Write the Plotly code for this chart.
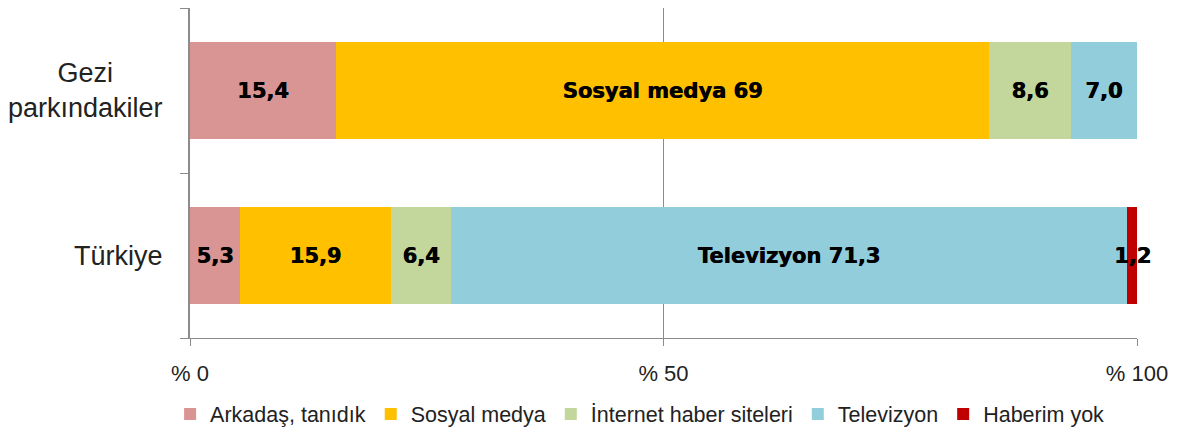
import plotly.graph_objects as go

categories = ["Türkiye", "Gezi<br>parkındakiler"]
series_names = ["Arkadaş, tanıdık", "Sosyal medya", "İnternet haber siteleri", "Televizyon", "Haberim yok"]
arkadas = [5.3, 15.4]
sosyal = [15.9, 69]
internet = [6.4, 8.6]
televizyon = [71.3, 7.0]
haberim_yok = [1.2, 0]
# data labels as printed in the chart (decimal comma)
arkadas_labels = ["5,3", "15,4"]
sosyal_labels = ["15,9", "Sosyal medya 69"]
internet_labels = ["6,4", "8,6"]
televizyon_labels = ["Televizyon 71,3", "7,0"]
haberim_yok_labels = ["1,2", ""]
colors = ["#D99594", "#FFC000", "#C3D69B", "#92CDDC", "#C00000"]
tick_vals = [0, 50, 100]
tick_text = ["% 0", "% 50", "% 100"]

values = [arkadas, sosyal, internet, televizyon, haberim_yok]
labels = [arkadas_labels, sosyal_labels, internet_labels, televizyon_labels, haberim_yok_labels]

label_font = dict(family="DejaVu Sans", size=21, color="black", weight="bold",
                  shadow="0.6px 0px 0px black")

fig = go.Figure()
cum = [0.0] * len(categories)
for name, vals, texts, col in zip(series_names, values, labels, colors):
    fig.add_trace(go.Bar(
        y=categories, x=vals, name=name, orientation="h",
        marker=dict(color=col, line=dict(width=0)),
        text=texts, textposition="inside", textangle=0,
        insidetextanchor="middle", cliponaxis=False, constraintext="none",
        textfont=label_font,
        width=0.59, hoverinfo="skip",
    ))
    # labels of segments too thin for Plotly's inside text: place at segment centre
    for i, (v, t) in enumerate(zip(vals, texts)):
        if t and v < 3:
            fig.add_annotation(x=cum[i] + v / 2, y=i, xref="x", yref="y",
                               text=t, showarrow=False, font=label_font)
        cum[i] += v

for i, cat in enumerate(categories):
    fig.add_annotation(
        x=-0.0264, xref="paper", xanchor="right", y=i, yref="y", yanchor="middle",
        text=cat, showarrow=False, align="center",
        font=dict(family="Liberation Sans", size=27, color="#222222"),
    )

fig.update_layout(
    barmode="stack",
    width=1186, height=433,
    margin=dict(l=182, r=57, t=0, b=103),
    plot_bgcolor="white", paper_bgcolor="white",
    font=dict(family="Liberation Sans", color="#222222"),
    showlegend=True,
    legend=dict(orientation="h", x=-0.021, xanchor="left", y=-0.230, yanchor="middle",
                font=dict(family="Liberation Sans", size=21.5, color="#222222"),
                traceorder="normal", itemwidth=30, tracegroupgap=0,
                itemsizing="constant"),
)
fig.update_xaxes(
    range=[0, 100], tickvals=tick_vals, ticktext=tick_text,
    showgrid=True, gridcolor="#8C8C8C", gridwidth=1, zeroline=False,
    showline=True, linecolor="#8C8C8C", linewidth=1,
    ticks="outside", ticklen=7, tickcolor="#8C8C8C",
    tickfont=dict(family="Liberation Sans", size=22, color="#222222"),
    ticklabelstandoff=9,
)
fig.update_yaxes(
    type="category", range=[-0.5, 1.5],
    showline=True, linecolor="#8C8C8C", linewidth=1.5,
    ticks="outside", ticklen=8, tickcolor="#8C8C8C", tickson="boundaries",
    showgrid=False, showticklabels=False,
)
fig.write_html("out.html")
